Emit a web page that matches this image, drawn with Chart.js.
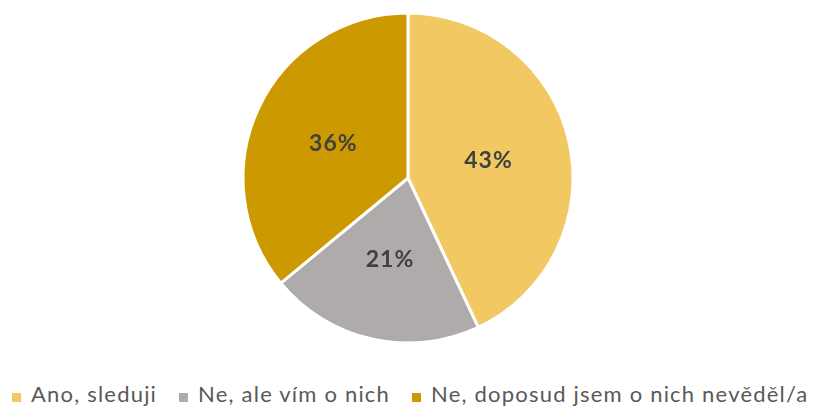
<!DOCTYPE html>
<html>
<head>
<meta charset="utf-8">
<script src="https://cdn.jsdelivr.net/npm/chart.js@4"></script>
<style>
  html, body { margin: 0; padding: 0; background: #fff; }
  #wrap { position: relative; width: 816px; height: 408px; overflow: hidden; }
  #chartPie { position: absolute; left: 0; top: 0; }
  #legend {
    position: absolute; left: 12px; top: 381px; display: flex; align-items: center;
    font-family: Lato, "Open Sans", sans-serif; font-size: 22px; line-height: 26px;
    letter-spacing: 1.2px; color: #595959; white-space: nowrap;
  }
  .item { display: flex; align-items: center; margin-right: 22px; }
  .sw { width: 9px; height: 9px; margin-right: 10px; margin-top: 6px; }
</style>
</head>
<body>
<div id="wrap">
  <canvas id="chartPie" width="816" height="356"></canvas>
  <div id="legend"></div>
</div>
<script>
const labels = ['Ano, sleduji', 'Ne, ale vím o nich', 'Ne, doposud jsem o nich nevěděl/a'];
const values = [43, 21, 36];
const colors = ['#F1C862', '#AFABAB', '#CC9A00'];

(function () {
  const pctLabels = {
    id: 'pctLabels',
    afterDatasetsDraw(chart) {
      const ctx = chart.ctx;
      const meta = chart.getDatasetMeta(0);
      ctx.save();
      ctx.font = 'bold 23px Lato, "Open Sans", sans-serif';
      ctx.letterSpacing = '1px';
      ctx.fillStyle = '#404040';
      ctx.textAlign = 'center';
      ctx.textBaseline = 'middle';
      meta.data.forEach((arc, i) => {
        const p = arc.tooltipPosition();
        ctx.fillText(values[i] + '%', p.x, p.y + 1);
      });
      ctx.restore();
    }
  };

  new Chart(document.getElementById('chartPie').getContext('2d'), {
    type: 'pie',
    data: {
      labels,
      datasets: [{
        data: values,
        backgroundColor: colors,
        borderColor: '#ffffff',
        borderWidth: 3,
        radius: 165
      }]
    },
    options: {
      responsive: false,
      animation: false,
      layout: { padding: 0 },
      plugins: { legend: { display: false }, tooltip: { enabled: false } }
    },
    plugins: [pctLabels]
  });

  const lg = document.getElementById('legend');
  labels.forEach((name, i) => {
    const it = document.createElement('div');
    it.className = 'item';
    it.innerHTML = `<span class="sw" style="background:${colors[i]}"></span><span>${name}</span>`;
    lg.appendChild(it);
  });
})();
</script>
</body>
</html>
